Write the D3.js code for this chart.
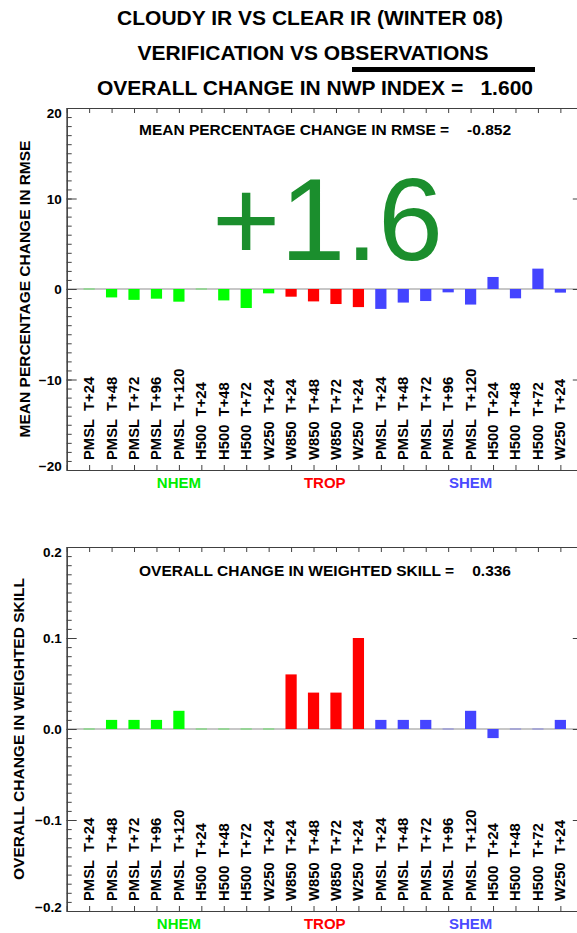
<!DOCTYPE html>
<html>
<head>
<meta charset="utf-8">
<script src="https://cdn.jsdelivr.net/npm/d3@7"></script>
<style>
  html, body { margin: 0; padding: 0; background: #ffffff; }
  svg { display: block; }
  text { font-family: "Liberation Sans", Arial, Helvetica, sans-serif; }
</style>
</head>
<body>
<script>
// ---------------- data ----------------
const categories = [
  "PMSL  T+24", "PMSL  T+48", "PMSL  T+72", "PMSL  T+96", "PMSL  T+120",
  "H500  T+24", "H500  T+48", "H500  T+72", "W250  T+24",
  "W850  T+24", "W850  T+48", "W850  T+72", "W250  T+24",
  "PMSL  T+24", "PMSL  T+48", "PMSL  T+72", "PMSL  T+96", "PMSL  T+120",
  "H500  T+24", "H500  T+48", "H500  T+72", "W250  T+24"
];
const regions = [
  "NHEM", "NHEM", "NHEM", "NHEM", "NHEM", "NHEM", "NHEM", "NHEM", "NHEM",
  "TROP", "TROP", "TROP", "TROP",
  "SHEM", "SHEM", "SHEM", "SHEM", "SHEM", "SHEM", "SHEM", "SHEM", "SHEM"
];
const regionNames = ["NHEM", "TROP", "SHEM"];
const rmseChange = [
  0.0, -0.93, -1.2, -1.07, -1.4, 0.0, -1.26, -2.1, -0.48,
  -0.85, -1.37, -1.66, -2.0,
  -2.2, -1.5, -1.33, -0.37, -1.72, 1.33, -1.03, 2.25, -0.4
];
const skillChange = [
  0.0, 0.01, 0.01, 0.01, 0.02, 0.0, 0.0, 0.0, 0.0,
  0.06, 0.04, 0.04, 0.10,
  0.01, 0.01, 0.01, 0.0, 0.02, -0.01, 0.0, 0.0, 0.01
];
const rmseTicks = [-20, -10, 0, 10, 20];
const rmseMinor = d3.range(-20, 21, 1);
const skillTicks = [-0.2, -0.1, 0.0, 0.1, 0.2];
const skillMinor = d3.range(-20, 21, 1).map(v => v / 100);

const titleLines = ["CLOUDY IR VS CLEAR IR (WINTER 08)", "VERIFICATION VS OBSERVATIONS"];
const indexLabel = "OVERALL CHANGE IN NWP INDEX =";
const indexValue = "1.600";
const bigLabel = "+1.6";
const rmseNote = ["MEAN PERCENTAGE CHANGE IN RMSE =", "-0.852"];
const skillNote = ["OVERALL CHANGE IN WEIGHTED SKILL =", "0.336"];
const rmseYTitle = "MEAN PERCENTAGE CHANGE IN RMSE";
const skillYTitle = "OVERALL CHANGE IN WEIGHTED SKILL";

const barColor = { NHEM: "#00ff00", TROP: "#ff0000", SHEM: "#4444ff" };
const labelColor = { NHEM: "#00ee00", TROP: "#ff0000", SHEM: "#4a4aff" };

// ---------------- drawing ----------------
const W = 577, H = 933;
const svg = d3.select("body").append("svg").attr("width", W).attr("height", H);

const x = d3.scaleLinear().domain([-1, categories.length]).range([66.7, 582.8]);
const idx = d3.range(categories.length);
const barW = (x(1) - x(0)) * 0.5;
const axisColor = "#404040";

// titles
const tg = svg.append("g").attr("font-weight", "bold").attr("fill", "#000");
tg.append("text").attr("x", 310).attr("y", 24.5).attr("text-anchor", "middle")
  .attr("font-size", 21).text(titleLines[0]);
tg.append("text").attr("x", 313).attr("y", 59.5).attr("text-anchor", "middle")
  .attr("font-size", 21).text(titleLines[1]);
svg.append("rect").attr("x", 352).attr("y", 67).attr("width", 183).attr("height", 5).attr("fill", "#000");
tg.append("text").attr("x", 97).attr("y", 94.5).attr("text-anchor", "start")
  .attr("font-size", 21).text(indexLabel);
tg.append("text").attr("x", 533).attr("y", 94.5).attr("text-anchor", "end")
  .attr("font-size", 21).text(indexValue);

function panel(opts) {
  const { values, y, major, minor, fmt, yTitle, yTitleX, note, noteY } = opts;
  const [yBot, yTop] = y.range();
  const g = svg.append("g");
  const x0 = x.range()[0], x1 = x.range()[1];

  // zero line
  g.append("line").attr("x1", x0).attr("x2", x1).attr("y1", y(0)).attr("y2", y(0))
    .attr("stroke", "#b5b5b5").attr("stroke-width", 1.6);

  // axes
  const styleAxis = sel => {
    sel.selectAll("path.domain").attr("stroke", axisColor).attr("stroke-width", 1.2);
    sel.selectAll(".tick line").attr("stroke", axisColor).attr("stroke-width", 1);
  };
  g.append("g").attr("transform", `translate(${x0},0)`)
    .call(d3.axisLeft(y).tickValues(minor).tickSize(-5).tickSizeOuter(0).tickFormat(""))
    .call(styleAxis);
  const left = g.append("g").attr("transform", `translate(${x0},0)`)
    .call(d3.axisLeft(y).tickValues(major).tickSize(-10).tickSizeOuter(0).tickPadding(5).tickFormat(fmt))
    .call(styleAxis);
  left.selectAll(".tick text").attr("font-size", 13.5).attr("font-weight", "bold")
    .attr("fill", "#000").attr("font-family", "'Liberation Sans', Arial, sans-serif")
    .attr("dy", (d, i) => i === major.length - 1 ? "0.72em" : (i === 0 ? "0em" : "0.34em"));
  g.append("g").attr("transform", `translate(${x1},0)`)
    .call(d3.axisRight(y).tickValues(minor).tickSize(-5).tickSizeOuter(0).tickFormat(""))
    .call(styleAxis);
  g.append("g").attr("transform", `translate(${x1},0)`)
    .call(d3.axisRight(y).tickValues(major).tickSize(-10).tickSizeOuter(0).tickFormat(""))
    .call(styleAxis);
  g.append("g").attr("transform", `translate(0,${yBot})`)
    .call(d3.axisBottom(x).tickValues(d3.range(-1, categories.length + 1)).tickSize(-5).tickSizeOuter(0).tickFormat(""))
    .call(styleAxis);
  g.append("g").attr("transform", `translate(0,${yTop})`)
    .call(d3.axisTop(x).tickValues(d3.range(-1, categories.length + 1)).tickSize(-5).tickSizeOuter(0).tickFormat(""))
    .call(styleAxis);

  // bars
  g.append("g").selectAll("rect").data(idx).join("rect")
    .attr("x", i => x(i) - barW / 2)
    .attr("width", barW)
    .attr("y", i => values[i] === 0 ? y(0) - 0.8 : Math.min(y(values[i]), y(0)))
    .attr("height", i => values[i] === 0 ? 1.6 : Math.abs(y(values[i]) - y(0)))
    .attr("fill", i => barColor[regions[i]])
    .attr("opacity", i => values[i] === 0 ? 0.3 : 1);

  // category labels
  g.append("g").selectAll("text").data(idx).join("text")
    .attr("transform", i => `translate(${x(i) + 5},${yBot - 10}) rotate(-90)`)
    .attr("text-anchor", "start")
    .attr("font-size", 14.8).attr("font-weight", "bold").attr("fill", "#000")
    .style("white-space", "pre")
    .text(i => categories[i]);

  // region labels
  regionNames.forEach(r => {
    const members = idx.filter(i => regions[i] === r);
    g.append("text").attr("x", x(d3.mean(members))).attr("y", yBot + 17.5)
      .attr("text-anchor", "middle").attr("font-size", 15).attr("font-weight", "bold")
      .attr("fill", labelColor[r]).text(r);
  });

  // y title
  g.append("text")
    .attr("transform", `translate(${yTitleX},${(yTop + yBot) / 2}) rotate(-90)`)
    .attr("text-anchor", "middle").attr("font-size", 15.5).attr("font-weight", "bold")
    .attr("fill", "#000").text(yTitle);

  // note
  g.append("text").attr("x", 139).attr("y", noteY).attr("font-size", 15.5)
    .attr("font-weight", "bold").attr("fill", "#000").text(note[0]);
  g.append("text").attr("x", 511).attr("y", noteY).attr("text-anchor", "end").attr("font-size", 15.5)
    .attr("font-weight", "bold").attr("fill", "#000").text(note[1]);
}

const yRmse = d3.scaleLinear().domain([-20, 20]).range([470, 108]);
panel({
  values: rmseChange, y: yRmse, major: rmseTicks, minor: rmseMinor,
  fmt: d3.format("d"), yTitle: rmseYTitle, yTitleX: 29.5, note: rmseNote, noteY: 135
});

const ySkill = d3.scaleLinear().domain([-0.2, 0.2]).range([911, 547]);
panel({
  values: skillChange, y: ySkill, major: skillTicks, minor: skillMinor,
  fmt: d3.format(".1f"), yTitle: skillYTitle, yTitleX: 24, note: skillNote, noteY: 576
});

// big index label
svg.append("text").attr("x", 212).attr("y", 259.5)
  .attr("font-size", 117).attr("fill", "#1b8e2d").text(bigLabel);
</script>
</body>
</html>
